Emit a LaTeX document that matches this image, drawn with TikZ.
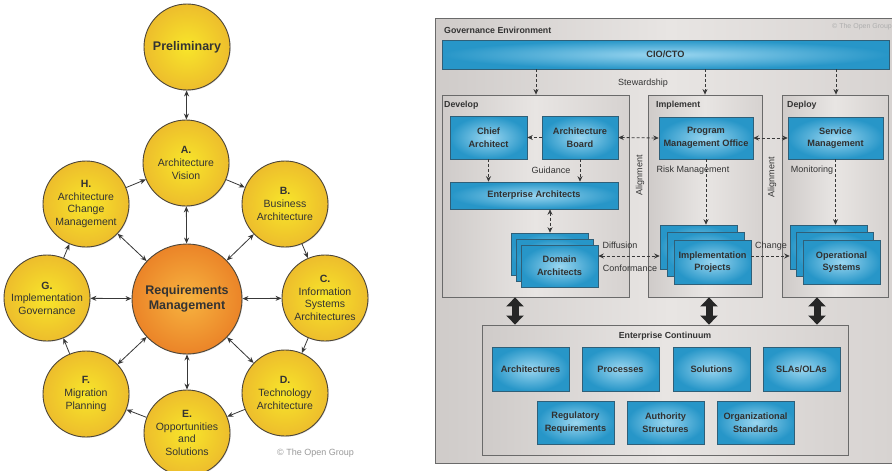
\documentclass[tikz,border=0pt]{standalone}
\usepackage{fontspec}
\setmainfont{Liberation Sans}
\usetikzlibrary{arrows.meta,shadows,calc}
\definecolor{txt}{HTML}{333333}
\definecolor{ylwin}{HTML}{F8E62A}
\definecolor{ylwout}{HTML}{EDBD2C}
\definecolor{orin}{HTML}{F7B440}
\definecolor{orout}{HTML}{EB8428}
\definecolor{circbd}{HTML}{4D4538}
\definecolor{arr}{HTML}{383838}
\definecolor{bin}{HTML}{9AD6F0}
\definecolor{bout}{HTML}{2796C8}
\definecolor{bbd}{HTML}{2F5F78}
\definecolor{btxt}{HTML}{303030}
\definecolor{gl}{HTML}{CFCBC9}
\definecolor{gm}{HTML}{E8E5E3}
\definecolor{gr}{HTML}{D6D2D0}
\definecolor{boxbd}{HTML}{6A6A6A}
\definecolor{copy}{HTML}{9A9A9A}
\tikzset{
  phase/.style={circle, minimum size=86pt, inner sep=0pt, draw=circbd, line width=0.9pt,
    inner color=ylwin, outer color=ylwout, align=center, text=txt,
    font=\fontsize{10.5}{12.6}\selectfont,
    drop shadow={shadow xshift=0.8pt, shadow yshift=-0.8pt, opacity=0.25}},
  reqc/.style={phase, minimum size=110pt, inner color=orin, outer color=orout,
    font=\bfseries\fontsize{12.5}{15}\selectfont},
  cyc/.style={draw=arr, line width=0.8pt, -{Stealth[length=6pt,width=5pt]}},
  dcyc/.style={cyc, {Stealth[length=6pt,width=5pt]}-{Stealth[length=6pt,width=5pt]}},
  bbox/.style={draw=bbd, line width=0.6pt, inner color=bin, outer color=bout,
    font=\bfseries\fontsize{9.2}{12.6}\selectfont, text=btxt, align=center, inner sep=0pt},
  area/.style={draw=boxbd, line width=0.8pt, shading=axis, left color=gl, right color=gr,
    middle color=gm, inner sep=0pt},
  lbl/.style={font=\fontsize{9}{11}\selectfont, text=txt, inner sep=0pt},
  ttl/.style={font=\bfseries\fontsize{8.8}{11}\selectfont, text=txt, inner sep=0pt, anchor=west},
  dsh/.style={draw=arr, line width=0.8pt, dash pattern=on 3pt off 2pt,
    -{Stealth[length=5.5pt,width=5pt]}},
  ddsh/.style={dsh, {Stealth[length=5.5pt,width=5pt]}-{Stealth[length=5.5pt,width=5pt]}},
  blockarr/.style={draw=black!85, line width=7pt,
    {Triangle[length=9pt,width=17pt]}-{Triangle[length=9pt,width=17pt]}}
}
\begin{document}
\begin{tikzpicture}[x=1pt,y=-1pt]
\useasboundingbox (0,0) rectangle (892,471);
\clip (0,0) rectangle (892,471);
\fill[white] (0,0) rectangle (892,471);

% ---------- left: ADM cycle ----------
\node[phase] (pre) at (187,47) {\bfseries\fontsize{12.5}{15}\selectfont Preliminary};
\node[phase] (A) at (186,163) {\textbf{A.}\\Architecture\\Vision};
\node[phase] (B) at (285,204) {\textbf{B.}\\Business\\Architecture};
\node[phase] (C) at (325,298) {\textbf{C.}\\Information\\Systems\\Architectures};
\node[phase] (D) at (285,393) {\textbf{D.}\\Technology\\Architecture};
\node[phase] (E) at (187,433) {\textbf{E.}\\Opportunities\\and\\Solutions};
\node[phase] (F) at (86,394) {\textbf{F.}\\Migration\\Planning};
\node[phase] (G) at (47,298) {\textbf{G.}\\Implementation\\Governance};
\node[phase] (H) at (86,204) {\textbf{H.}\\Architecture\\Change\\Management};
\node[reqc] (R) at (187,299) {Requirements\\Management};

\draw[dcyc] (pre) -- (A);
\draw[cyc] (H) -- (A);
\draw[cyc] (A) -- (B);
\draw[cyc] (B) -- (C);
\draw[cyc] (C) -- (D);
\draw[cyc] (D) -- (E);
\draw[cyc] (E) -- (F);
\draw[cyc] (F) -- (G);
\draw[cyc] (G) -- (H);
\foreach \p in {A,B,C,D,E,F,G,H} { \draw[dcyc] (R) -- (\p); }

\node[font=\fontsize{9}{11}\selectfont, text=copy, anchor=west, inner sep=0pt] (cpl) at (277,453) {\textcopyright{} The Open Group};

% ---------- right: governance environment ----------
\node[area, minimum width=470pt, minimum height=445pt] (gov) at (670,240.5) {};
\node[ttl] (govt) at (444,30) {Governance Environment};
\node[font=\fontsize{7}{9}\selectfont, text=copy!80, anchor=west, inner sep=0pt] (cpr) at (832,27) {\textcopyright{} The Open Group};

\node[bbox, minimum width=447pt, minimum height=29pt] (cio) at (665.5,54.5) {CIO/CTO};

\node[area, minimum width=187pt, minimum height=202pt] (dev) at (535.5,196) {};
\node[area, minimum width=114pt, minimum height=202pt] (imp) at (705,196) {};
\node[area, minimum width=106pt, minimum height=202pt] (dep) at (835,196) {};
\node[ttl] (devt) at (444,105) {Develop};
\node[ttl] (impt) at (656,105) {Implement};
\node[ttl] (dept) at (787,105) {Deploy};

% stewardship
\coordinate (s1) at (536,0);
\coordinate (s2) at (705,0);
\coordinate (s3) at (836,0);
\draw[dsh] (cio.south -| s1) -- (dev.north -| s1);
\draw[dsh] (cio.south -| s2) -- (imp.north -| s2);
\draw[dsh] (cio.south -| s3) -- (dep.north -| s3);
\node[lbl] (stew) at (643,83) {Stewardship};

% develop
\node[bbox, minimum width=77pt, minimum height=43pt] (chief) at (488.5,137.5) {Chief\\Architect};
\node[bbox, minimum width=76pt, minimum height=43pt] (board) at (580,137.5) {Architecture\\Board};
\node[bbox, minimum width=168pt, minimum height=27pt] (ea) at (534,195.5) {Enterprise Architects};
\node[bbox, minimum width=77pt, minimum height=42pt] (da3) at (549.5,254) {};
\node[bbox, minimum width=77pt, minimum height=42pt] (da2) at (554.5,260) {};
\node[bbox, minimum width=77pt, minimum height=42pt] (da) at (559.5,266) {Domain\\Architects};

\draw[dsh] (board.west) -- (chief.east);
\draw[dsh] (chief.south) -- (chief.south |- ea.north);
\draw[dsh] (board.south) -- (board.south |- ea.north);
\node[lbl] (guid) at (551,170) {Guidance};
\coordinate (c550) at (550,0);
\draw[ddsh] (ea.south -| c550) -- (da3.north -| c550);

% implement
\node[bbox, minimum width=94pt, minimum height=42pt] (pmo) at (706,138) {Program\\Management Office};
\node[bbox, minimum width=77pt, minimum height=44pt] (ip3) at (698.5,247) {};
\node[bbox, minimum width=77pt, minimum height=44pt] (ip2) at (705.5,254.5) {};
\node[bbox, minimum width=77pt, minimum height=44pt] (ip) at (712.5,262) {Implementation\\Projects};
\draw[dsh] (pmo.south) -- (pmo.south |- ip3.north);
\node[lbl] (risk) at (693,170) {Risk Management};

% deploy
\node[bbox, minimum width=95pt, minimum height=42pt] (sm) at (835.5,138) {Service\\Management};
\node[bbox, minimum width=77pt, minimum height=44pt] (os3) at (828.5,247) {};
\node[bbox, minimum width=77pt, minimum height=44pt] (os2) at (835,254.5) {};
\node[bbox, minimum width=77pt, minimum height=44pt] (os) at (841.5,262) {Operational\\Systems};
\draw[dsh] (sm.south) -- (sm.south |- os3.north);
\node[lbl] (mon) at (812,170) {Monitoring};

% cross links
\draw[ddsh] (board.east) -- (pmo.west);
\draw[ddsh] (pmo.east) -- (sm.west);
\coordinate (ydi) at (0,256);
\draw[ddsh] (da.east |- ydi) -- (ip3.west |- ydi);
\draw[dsh] (ip.east |- ydi) -- (os3.west |- ydi);
\node[lbl] (diff) at (620,245) {Diffusion};
\node[lbl] (conf) at (630,268) {Conformance};
\node[lbl] (chg) at (771,246) {Change};
\node[lbl, rotate=90] (al1) at (640,175) {Alignment};
\node[lbl, rotate=90] (al2) at (772,177) {Alignment};

% enterprise continuum
\node[area, minimum width=366pt, minimum height=130pt] (ec) at (665,390) {};
\node[font=\bfseries\fontsize{8.8}{11}\selectfont, text=txt, inner sep=0pt] (ect) at (665,336) {Enterprise Continuum};
\node[bbox, minimum width=77pt, minimum height=44pt] (arch) at (530.5,369) {Architectures};
\node[bbox, minimum width=77pt, minimum height=44pt] (proc) at (620.5,369) {Processes};
\node[bbox, minimum width=77pt, minimum height=44pt] (sol) at (711.5,369) {Solutions};
\node[bbox, minimum width=77pt, minimum height=44pt] (sla) at (801.5,369) {SLAs/OLAs};
\node[bbox, minimum width=77pt, minimum height=43pt] (reg) at (575.5,422.5) {Regulatory\\Requirements};
\node[bbox, minimum width=77pt, minimum height=43pt] (auth) at (665.5,422.5) {Authority\\Structures};
\node[bbox, minimum width=77pt, minimum height=43pt] (org) at (755.5,422.5) {Organizational\\Standards};

\coordinate (b1) at (515,0);
\coordinate (b2) at (709,0);
\coordinate (b3) at (817,0);
\draw[blockarr] (dev.south -| b1) -- (ec.north -| b1);
\draw[blockarr] (imp.south -| b2) -- (ec.north -| b2);
\draw[blockarr] (dep.south -| b3) -- (ec.north -| b3);
\end{tikzpicture}
\end{document}
